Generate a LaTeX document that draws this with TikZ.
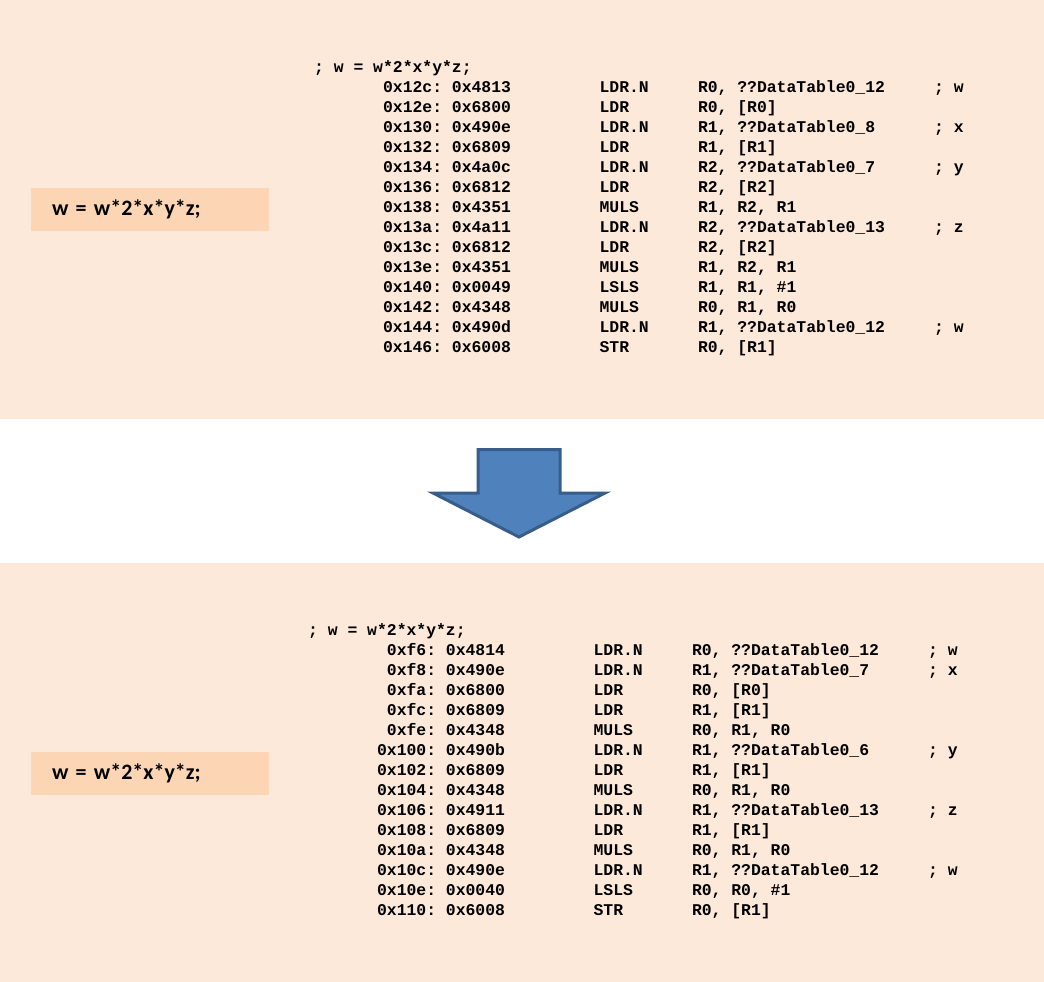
\documentclass[tikz,border=0pt]{standalone}
\usepackage{fontspec}
\newfontfamily\codefamily{Liberation Mono}
\newfontfamily\labelfamily{Carlito}
\definecolor{panelbg}{HTML}{FDE9D9}
\definecolor{labelbg}{HTML}{FCD5B5}
\definecolor{arrowfill}{HTML}{4F81BD}
\definecolor{arrowedge}{HTML}{385D8A}
\frenchspacing
\newlength{\cw}
\newcommand{\codefont}{\codefamily\bfseries\fontsize{16.4pt}{20pt}\selectfont}
\newcommand{\asmline}[4]{\makebox[20\cw][r]{#1}\hspace{9\cw}\makebox[10\cw][l]{#2}\makebox[24\cw][l]{#3}#4}
\tikzset{
	code/.style={anchor=base west, inner sep=0pt, font=\codefont},
	srcbox/.style={fill=labelbg, minimum width=238pt, minimum height=43pt, text width=196pt, inner xsep=21pt, align=left, font=\labelfamily\bfseries\fontsize{22pt}{26pt}\selectfont}
}
\begin{document}
\settowidth{\cw}{\codefont 0}
\begin{tikzpicture}[x=1pt, y=-1pt]
	\useasboundingbox (0,0) rectangle (1044,982);
	
	% panels
	\fill[panelbg] (0,0) rectangle (1044,419);
	\fill[panelbg] (0,563) rectangle (1044,982);
	
	% source lines
	\node[srcbox] (srcA) at (150,209.5) {w = w*2*x*y*z;};
	\node[srcbox] (srcB) at (150,773.5) {w = w*2*x*y*z;};
	
	% first listing
	\node[code] (a0) at (314,72.5) {; w = w*2*x*y*z;};
	\node[code] (a1) at (314,92.5) {\asmline{0x12c: 0x4813}{LDR.N}{R0, ??DataTable0\_12}{; w}};
	\node[code] (a2) at (314,112.5) {\asmline{0x12e: 0x6800}{LDR}{R0, [R0]}{}};
	\node[code] (a3) at (314,132.5) {\asmline{0x130: 0x490e}{LDR.N}{R1, ??DataTable0\_8}{; x}};
	\node[code] (a4) at (314,152.5) {\asmline{0x132: 0x6809}{LDR}{R1, [R1]}{}};
	\node[code] (a5) at (314,172.5) {\asmline{0x134: 0x4a0c}{LDR.N}{R2, ??DataTable0\_7}{; y}};
	\node[code] (a6) at (314,192.5) {\asmline{0x136: 0x6812}{LDR}{R2, [R2]}{}};
	\node[code] (a7) at (314,212.5) {\asmline{0x138: 0x4351}{MULS}{R1, R2, R1}{}};
	\node[code] (a8) at (314,232.5) {\asmline{0x13a: 0x4a11}{LDR.N}{R2, ??DataTable0\_13}{; z}};
	\node[code] (a9) at (314,252.5) {\asmline{0x13c: 0x6812}{LDR}{R2, [R2]}{}};
	\node[code] (a10) at (314,272.5) {\asmline{0x13e: 0x4351}{MULS}{R1, R2, R1}{}};
	\node[code] (a11) at (314,292.5) {\asmline{0x140: 0x0049}{LSLS}{R1, R1, \#1}{}};
	\node[code] (a12) at (314,312.5) {\asmline{0x142: 0x4348}{MULS}{R0, R1, R0}{}};
	\node[code] (a13) at (314,332.5) {\asmline{0x144: 0x490d}{LDR.N}{R1, ??DataTable0\_12}{; w}};
	\node[code] (a14) at (314,352.5) {\asmline{0x146: 0x6008}{STR}{R0, [R1]}{}};
	
	% arrow
	\draw[fill=arrowfill, draw=arrowedge, line width=3pt, line join=miter]
		(478,449.5) -- (560,449.5) -- (560,493) -- (605,493) -- (519,537)
		-- (433,493) -- (478,493) -- cycle;
	
	% second listing
	\node[code] (b0) at (308,635.5) {; w = w*2*x*y*z;};
	\node[code] (b1) at (308,655.5) {\asmline{0xf6: 0x4814}{LDR.N}{R0, ??DataTable0\_12}{; w}};
	\node[code] (b2) at (308,675.5) {\asmline{0xf8: 0x490e}{LDR.N}{R1, ??DataTable0\_7}{; x}};
	\node[code] (b3) at (308,695.5) {\asmline{0xfa: 0x6800}{LDR}{R0, [R0]}{}};
	\node[code] (b4) at (308,715.5) {\asmline{0xfc: 0x6809}{LDR}{R1, [R1]}{}};
	\node[code] (b5) at (308,735.5) {\asmline{0xfe: 0x4348}{MULS}{R0, R1, R0}{}};
	\node[code] (b6) at (308,755.5) {\asmline{0x100: 0x490b}{LDR.N}{R1, ??DataTable0\_6}{; y}};
	\node[code] (b7) at (308,775.5) {\asmline{0x102: 0x6809}{LDR}{R1, [R1]}{}};
	\node[code] (b8) at (308,795.5) {\asmline{0x104: 0x4348}{MULS}{R0, R1, R0}{}};
	\node[code] (b9) at (308,815.5) {\asmline{0x106: 0x4911}{LDR.N}{R1, ??DataTable0\_13}{; z}};
	\node[code] (b10) at (308,835.5) {\asmline{0x108: 0x6809}{LDR}{R1, [R1]}{}};
	\node[code] (b11) at (308,855.5) {\asmline{0x10a: 0x4348}{MULS}{R0, R1, R0}{}};
	\node[code] (b12) at (308,875.5) {\asmline{0x10c: 0x490e}{LDR.N}{R1, ??DataTable0\_12}{; w}};
	\node[code] (b13) at (308,895.5) {\asmline{0x10e: 0x0040}{LSLS}{R0, R0, \#1}{}};
	\node[code] (b14) at (308,915.5) {\asmline{0x110: 0x6008}{STR}{R0, [R1]}{}};
\end{tikzpicture}
\end{document}
